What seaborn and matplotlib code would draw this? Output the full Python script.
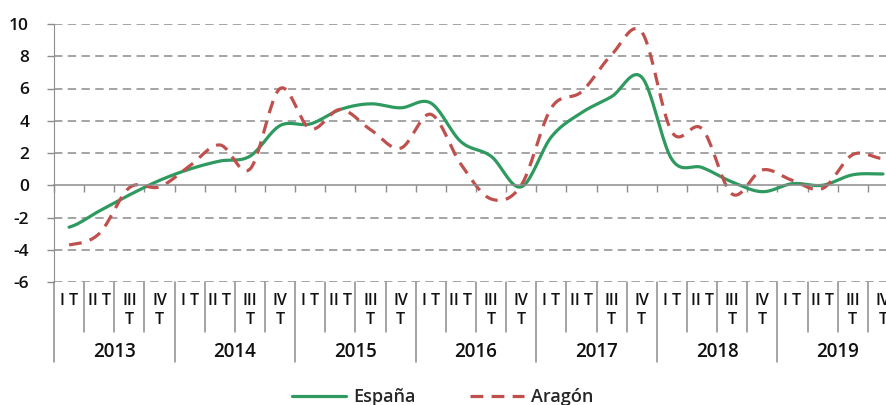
import numpy as np
import pandas as pd
import seaborn as sns
import matplotlib
matplotlib.use("Agg")
import matplotlib.pyplot as plt
from matplotlib.transforms import blended_transform_factory

# quarterly values, 2013 I T .. 2019 IV T
years = ["2013", "2014", "2015", "2016", "2017", "2018", "2019"]
quarters = ["I T", "II T", "III\nT", "IV\nT"]
espana = [-2.6, -1.6, -0.6, 0.3, 1.0, 1.5, 1.8, 3.7, 3.8, 4.7, 5.05, 4.8, 5.1, 2.7,
          1.8, -0.1, 3.0, 4.5, 5.5, 6.7, 1.6, 1.1, 0.2, -0.4, 0.1, 0.0, 0.65, 0.7]
aragon = [-3.7, -3.0, -0.15, -0.1, 1.2, 2.5, 1.0, 6.0, 3.5, 4.7, 3.45, 2.3, 4.4, 1.3,
          -0.85, 0.0, 4.8, 5.8, 8.1, 9.5, 3.3, 3.5, -0.55, 0.95, 0.3, -0.2, 1.9, 1.65]
yticks = [-6, -4, -2, 0, 2, 4, 6, 8, 10]


def smooth(vals, n=20):
    # excel style smoothed line (catmull-rom between the quarterly points)
    p = np.r_[vals[0], vals, vals[-1]]
    xs, ys = [], []
    t = np.linspace(0, 1, n, endpoint=False)
    for i in range(len(vals) - 1):
        p0, p1, p2, p3 = p[i], p[i + 1], p[i + 2], p[i + 3]
        y = 0.5 * (2 * p1 + (-p0 + p2) * t + (2 * p0 - 5 * p1 + 4 * p2 - p3) * t ** 2
                   + (-p0 + 3 * p1 - 3 * p2 + p3) * t ** 3)
        xs.extend(i + 0.5 + t)
        ys.extend(y)
    xs.append(len(vals) - 0.5)
    ys.append(vals[-1])
    return xs, ys


xe, ye = smooth(espana)
xa, ya = smooth(aragon)
df = pd.concat([
    pd.DataFrame({"x": xe, "y": ye, "serie": "España"}),
    pd.DataFrame({"x": xa, "y": ya, "serie": "Aragón"}),
])

sns.set_style("white")
plt.rcParams["font.family"] = ["Open Sans", "DejaVu Sans"]

fig = plt.figure(figsize=(8.86, 4.05), dpi=100)
ax = fig.add_axes([54 / 886, 123 / 405, 844 / 886, 258 / 405])

grey = "#8c8c8c"
txt = "#111111"
for v in yticks:
    if v != 0:
        ax.axhline(v, color=grey, lw=1.1, ls=(0, (5.5, 3.5)), zorder=0)

sns.lineplot(data=df, x="x", y="y", hue="serie", style="serie",
             palette={"España": "#2e9a5f", "Aragón": "#c0504d"},
             dashes={"España": "", "Aragón": (4, 2.6)},
             lw=2.3, ax=ax, legend=False, sort=False, estimator=None)

ax.set_xlim(0, 28)
ax.set_ylim(-6, 10)
ax.set_yticks(yticks)
ax.set_yticklabels([str(v) for v in yticks], fontsize=12.5, color=txt, fontweight="semibold")
ax.tick_params(axis="y", direction="out", length=5, width=1, color=grey, pad=13, left=True)
ax.spines["left"].set_color(grey)
ax.spines["bottom"].set_position(("data", 0))
ax.spines["bottom"].set_color(grey)
ax.spines["bottom"].set_linewidth(1.1)
for s in ["top", "right"]:
    ax.spines[s].set_visible(False)
ax.set_xticks(range(29))
ax.set_xticklabels([])
ax.tick_params(axis="x", direction="out", length=5, width=1, color=grey, bottom=True)
ax.set_xlabel("")
ax.set_ylabel("")

# category axis below the plot: quarters and years
tr = blended_transform_factory(ax.transData, ax.transAxes)
for k in range(29):
    low = -0.31 if k % 4 == 0 else -0.194
    ax.plot([k, k], [0, low], color=grey, lw=1.1, transform=tr, clip_on=False)
for i, yr in enumerate(years):
    for j, q in enumerate(quarters):
        ax.text(4 * i + j + 0.5, -0.042, q, transform=tr, ha="center", va="top",
                fontsize=11.5, linespacing=1.25, color=txt, fontweight="semibold")
    ax.text(4 * i + 2, -0.272, yr, transform=tr, ha="center", va="center",
            fontsize=13.5, color=txt, fontweight="semibold")

handles = [plt.Line2D([], [], color="#2e9a5f", lw=2.3),
           plt.Line2D([], [], color="#c0504d", lw=2.3, dashes=(4, 2.6))]
fig.legend(handles, ["España", "Aragón"], loc="center", ncol=2,
           bbox_to_anchor=(0.5, 0.02), frameon=False,
           prop={"size": 13, "weight": "semibold"},
           handlelength=3.0, columnspacing=3.0, handletextpad=0.4)

fig.savefig("out.png", dpi=100)
